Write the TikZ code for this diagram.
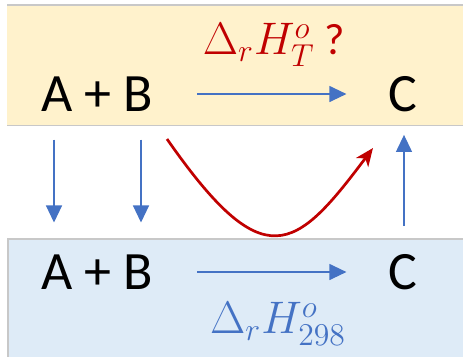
\documentclass[tikz,border=0pt]{standalone}
\usepackage{fontspec}
\setmainfont{Carlito}
\usepackage{tikz}
\usetikzlibrary{arrows.meta}

\definecolor{bandtop}{HTML}{FFF2CC}
\definecolor{bandbot}{HTML}{DEEBF7}
\definecolor{bandline}{HTML}{C8C8C8}
\definecolor{arrblue}{HTML}{4472C4}
\definecolor{arrred}{HTML}{C00000}

\newcommand{\bigmath}[1]{\scalebox{2.2}{\fontsize{20}{24}\selectfont #1}}

\begin{document}
\begin{tikzpicture}[
    x=1pt, y=-1pt,
    species/.style={inner sep=0pt, font=\fontsize{54}{60}\selectfont},
    enthalpy/.style={inner sep=0pt},
    bluearrow/.style={draw=arrblue, line width=1.2pt,
        -{Triangle[length=17pt,width=16pt]}},
    redarrow/.style={draw=arrred, line width=2.7pt,
        -{Stealth[length=18pt,width=15pt,inset=5pt]}}
]

\useasboundingbox (0,0) rectangle (463,357);

% Upper band
\fill[bandtop] (7,5) rectangle (463,125);
\draw[bandline, line width=1.5pt] (7,5) -- (463,5);
\draw[bandline, line width=1pt] (7,125) -- (463,125);
% Lower band
\fill[bandbot] (8,239) rectangle (463,357);
\draw[bandline, line width=1.5pt] (463,239) -- (8,239) -- (8,357);

\node[species] (ab1) at (97,94) {A + B};
\node[species] (c1) at (403,94) {C};
\node[species] (ab2) at (97,272) {A + B};
\node[species] (c2) at (403,272) {C};

\node[enthalpy, text=arrred] (dhT) at (274,45) {\bigmath{$\Delta_r H^o_T$ ?}};
\node[enthalpy, text=arrblue] (dh298) at (278,324) {\bigmath{$\Delta_r H^o_{298}$}};

\draw[bluearrow, shorten <=44pt, shorten >=42pt] (ab1.east) -- (c1.west);
\draw[bluearrow, shorten <=44pt, shorten >=42pt] (ab2.east) -- (c2.west);

\draw[bluearrow, shorten <=28pt, shorten >=32pt]
    ([xshift=-43pt]ab1.south) -- ([xshift=-43pt]ab2.north);
\draw[bluearrow, shorten <=28pt, shorten >=32pt]
    ([xshift=44pt]ab1.south) -- ([xshift=44pt]ab2.north);
\draw[bluearrow, shorten <=28pt, shorten >=23pt]
    ([xshift=1pt]c2.north) -- ([xshift=1pt]c1.south);

\coordinate (rs) at (167,139);
\coordinate (re) at (373,148);
\draw[redarrow] (rs) .. controls (264,278) and (295,252) .. (re);

\end{tikzpicture}
\end{document}
